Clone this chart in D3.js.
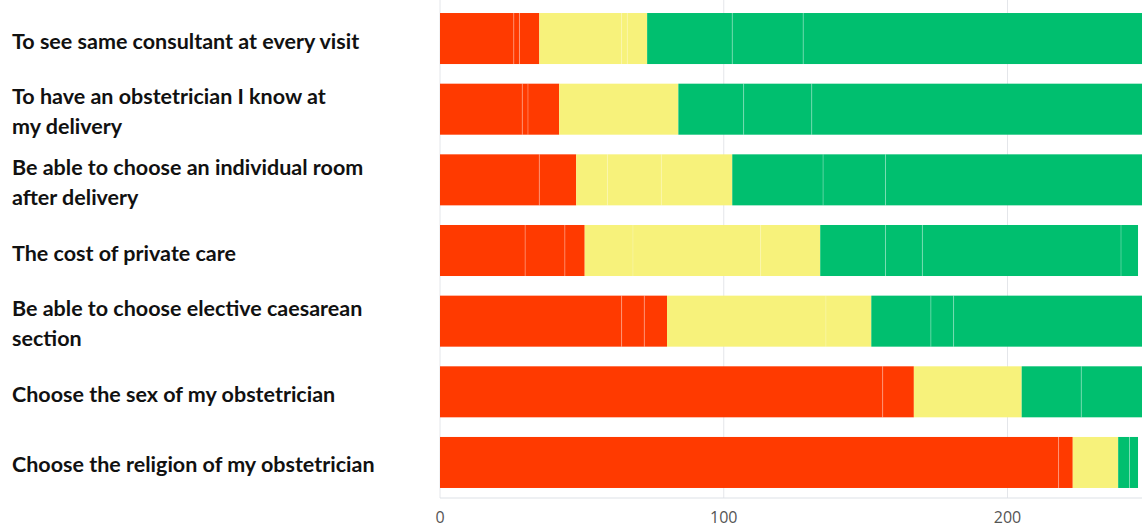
<!DOCTYPE html>
<html>
<head>
<meta charset="utf-8">
<script src="https://cdn.jsdelivr.net/npm/d3@7"></script>
<style>
  html, body { margin: 0; padding: 0; background: #ffffff; }
  svg { display: block; }
</style>
</head>
<body>
<svg id="chart" width="1142" height="530"></svg>
<script>
// ---- data ----
const categories = [
  "To see same consultant at every visit",
  "To have an obstetrician I know at my delivery",
  "Be able to choose an individual room after delivery",
  "The cost of private care",
  "Be able to choose elective caesarean section",
  "Choose the sex of my obstetrician",
  "Choose the religion of my obstetrician"
];
const labelLines = [
  ["To see same consultant at every visit"],
  ["To have an obstetrician I know at", "my delivery"],
  ["Be able to choose an individual room", "after delivery"],
  ["The cost of private care"],
  ["Be able to choose elective caesarean", "section"],
  ["Choose the sex of my obstetrician"],
  ["Choose the religion of my obstetrician"]
];
// each colour group is split into sub-segments (faint dividers in the original)
const lowParts = [[26, 2, 7], [29, 2, 11], [35, 13], [30, 14, 7], [64, 8, 8], [156, 11], [218, 5]];
const midParts = [[29, 2, 7], [42], [11, 19, 25], [17, 45, 21], [56, 16], [38], [16]];
const highParts = [[30, 25, 121], [23, 24, 118], [32, 22, 92], [23, 13, 70, 6], [21, 8, 68], [21, 23], [4, 3]];
const tickValues = [0, 100, 200];
const groupColors = ["#ff3a00", "#f7f27b", "#00bf6f"];

// ---- layout ----
const svg = d3.select("#chart");
const W = 1142, H = 530;
const x = d3.scaleLinear().domain([0, 200]).range([440, 1007.5]);
const y = d3.scaleBand().domain(categories).range([3.2, 497.8])
  .paddingInner(0.278).paddingOuter(0.139);
const axisY = 498;

// gridlines
svg.append("g").selectAll("line").data(tickValues).join("line")
  .attr("x1", d => x(d)).attr("x2", d => x(d))
  .attr("y1", 0).attr("y2", axisY)
  .attr("stroke", "#e4e6ea").attr("stroke-width", 1);
svg.append("line")
  .attr("x1", x(0)).attr("x2", W).attr("y1", axisY).attr("y2", axisY)
  .attr("stroke", "#dde1e6").attr("stroke-width", 1);

// build segments
const segs = [];
categories.forEach((c, i) => {
  let acc = 0;
  [lowParts[i], midParts[i], highParts[i]].forEach((parts, g) => {
    parts.forEach((v, k) => {
      segs.push({ cat: c, g, k, x0: acc, x1: acc + v });
      acc += v;
    });
  });
});

const bars = svg.append("g");
bars.selectAll("rect").data(segs).join("rect")
  .attr("x", d => x(d.x0))
  .attr("width", d => x(d.x1) - x(d.x0))
  .attr("y", d => y(d.cat))
  .attr("height", y.bandwidth())
  .attr("fill", d => groupColors[d.g]);

// faint dividers between sub-segments of the same colour
bars.selectAll("line.div").data(segs.filter(d => d.k > 0)).join("line")
  .attr("class", "div")
  .attr("x1", d => x(d.x0)).attr("x2", d => x(d.x0))
  .attr("y1", d => y(d.cat)).attr("y2", d => y(d.cat) + y.bandwidth())
  .attr("stroke", "#ffffff").attr("stroke-opacity", d => d.g === 1 ? 0.2 : 0.3)
  .attr("stroke-width", 1);

// x tick labels
svg.append("g").selectAll("text").data(tickValues).join("text")
  .attr("x", d => x(d)).attr("y", 523)
  .attr("text-anchor", "middle")
  .attr("font-family", "'Open Sans', sans-serif")
  .attr("font-size", 16)
  .attr("fill", "#555")
  .text(d => d);

// category labels
const lh = 30;
const lab = svg.append("g")
  .attr("font-family", "Lato, 'Open Sans', sans-serif")
  .attr("font-weight", "bold")
  .attr("font-size", 21.5)
  .attr("fill", "#111");
categories.forEach((c, i) => {
  const lines = labelLines[i];
  const cy = y(c) + y.bandwidth() / 2 + 3;
  const firstBaseline = cy - (lines.length - 1) * lh / 2 + 7;
  const t = lab.append("text").attr("x", 12);
  lines.forEach((ln, j) => {
    t.append("tspan").attr("x", 12).attr("y", firstBaseline + j * lh).text(ln);
  });
});
</script>
</body>
</html>
